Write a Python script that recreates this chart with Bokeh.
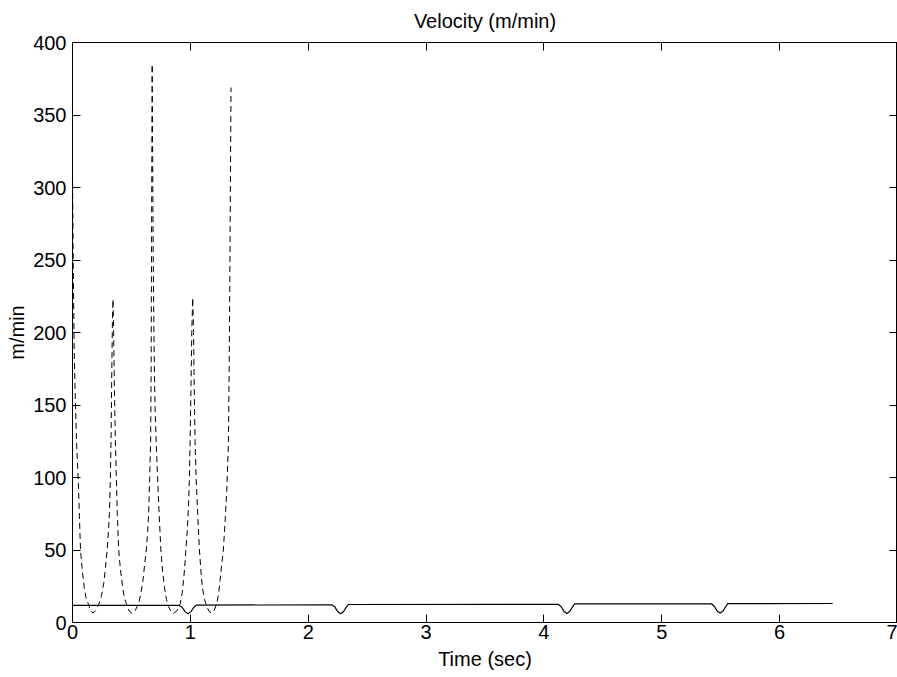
from bokeh.plotting import figure
from bokeh.models import Range1d, LinearAxis, SingleIntervalTicker, CustomLabelingPolicy
from bokeh.embed import file_html
from bokeh.resources import INLINE

# Dashed curve (m/min vs sec)
dash_t = [0.000, 0.006, 0.014, 0.022, 0.034, 0.048, 0.058, 0.068, 0.084, 0.100,
          0.115, 0.133, 0.150, 0.173, 0.195, 0.220, 0.245, 0.265, 0.280, 0.294,
          0.305, 0.313, 0.320, 0.327, 0.333, 0.339, 0.344, 0.349, 0.356, 0.364,
          0.372, 0.380, 0.392, 0.405, 0.426, 0.440, 0.457, 0.480, 0.505, 0.530,
          0.561, 0.580, 0.598, 0.612, 0.626, 0.638, 0.646, 0.655, 0.663, 0.667,
          0.670, 0.673, 0.676, 0.680, 0.685, 0.692, 0.700, 0.710, 0.722, 0.735,
          0.750, 0.765, 0.781, 0.797, 0.815, 0.835, 0.857, 0.885, 0.914, 0.930,
          0.942, 0.952, 0.962, 0.975, 0.984, 0.992, 0.998, 1.005, 1.012, 1.020,
          1.027, 1.033, 1.040, 1.049, 1.062, 1.077, 1.090, 1.102, 1.120, 1.140,
          1.160, 1.180, 1.200, 1.224, 1.240, 1.252, 1.266, 1.280, 1.295, 1.309,
          1.317, 1.323, 1.330, 1.336, 1.341, 1.345]
dash_v = [310, 250, 190, 160, 125, 100, 75, 50, 35, 24,
          17, 13, 9, 6.5, 8, 12, 18, 27, 38, 50,
          63, 75, 95, 125, 170, 210, 223, 200, 160, 125,
          100, 75, 50, 38, 24, 17, 13, 8, 6.2, 8,
          13, 20, 29, 40, 50, 63, 75, 100, 125, 170,
          240, 320, 385, 320, 250, 190, 150, 125, 100, 75,
          50, 35, 24, 16, 11, 7.5, 6.2, 8, 13, 20,
          29, 38, 50, 65, 80, 100, 125, 160, 200, 224,
          200, 160, 125, 100, 75, 50, 35, 24, 16, 11,
          7.5, 6.4, 8, 13, 20, 29, 40, 50, 70, 91,
          110, 125, 180, 250, 320, 369]

# Solid curve
solid_t = [0.00, 0.90, 0.93, 0.955, 0.98, 1.005, 1.03, 1.05,
           2.20, 2.225, 2.25, 2.275, 2.30, 2.325, 2.34,
           4.12, 4.145, 4.17, 4.195, 4.22, 4.245, 4.26,
           5.42, 5.445, 5.47, 5.495, 5.52, 5.545, 5.56, 6.45]
solid_v = [11.8, 11.9, 10.5, 7.5, 6.0, 7.5, 10.5, 12.0,
           12.2, 10.8, 7.6, 6.0, 7.6, 10.8, 12.4,
           12.6, 11.0, 7.8, 6.2, 7.8, 11.0, 12.8,
           12.9, 11.2, 8.0, 6.5, 8.0, 11.2, 13.0, 13.1]

title_text = "Velocity (m/min)"
x_ticks_interval = 1
y_ticks_interval = 50
FONT = "Liberation Sans"
FS = "20px"

p = figure(width=897, height=677, output_backend="svg", toolbar_location=None,
           x_range=Range1d(0, 7), y_range=Range1d(0, 400),
           min_border_left=72, min_border_right=0, min_border_top=42, min_border_bottom=55,
           x_axis_label="Time (sec)", y_axis_label="m/min")
p.background_fill_color = "white"
p.border_fill_color = "white"
p.grid.visible = False
p.outline_line_color = "black"
p.outline_line_width = 1

p.title.text = title_text
p.title.align = "center"
p.title.vertical_align = "top"
p.title.text_font = FONT
p.title.text_font_size = FS
p.title.text_font_style = "normal"
p.title.text_color = "black"
p.title.standoff = 17

p.xaxis.ticker = SingleIntervalTicker(interval=x_ticks_interval)
p.yaxis.ticker = SingleIntervalTicker(interval=y_ticks_interval)
for ax in [p.xaxis[0], p.yaxis[0]]:
    ax.major_tick_in = 8
    ax.major_tick_out = 0
    ax.minor_tick_in = 0
    ax.minor_tick_out = 0
    ax.axis_line_color = "black"
    ax.major_tick_line_color = "black"
    ax.major_label_text_font = FONT
    ax.major_label_text_font_size = FS
    ax.major_label_text_color = "black"
    ax.axis_label_text_font = FONT
    ax.axis_label_text_font_size = FS
    ax.axis_label_text_font_style = "normal"
    ax.axis_label_text_color = "black"
p.xaxis.major_label_standoff = 2
p.xaxis.axis_label_standoff = 6
p.yaxis.major_label_standoff = 6
p.yaxis.axis_label_standoff = 2

no_labels = CustomLabelingPolicy(code="""
for (const i of Array.from(indices)) { indices.unset(i) }
return indices
""")

top_ax = LinearAxis(ticker=SingleIntervalTicker(interval=x_ticks_interval))
right_ax = LinearAxis(ticker=SingleIntervalTicker(interval=y_ticks_interval))
for ax in [top_ax, right_ax]:
    ax.major_tick_in = 8
    ax.major_tick_out = 0
    ax.minor_tick_in = 0
    ax.minor_tick_out = 0
    ax.major_label_text_font_size = "0px"
    ax.major_label_standoff = 0
    ax.axis_label_standoff = 0
    ax.major_label_policy = no_labels
    ax.axis_line_color = "black"
p.add_layout(top_ax, "above")
p.add_layout(right_ax, "right")

p.line(dash_t, dash_v, line_color="black", line_width=1, line_dash="6 4")
p.line(solid_t, solid_v, line_color="black", line_width=1.2)

open("out.html", "w").write(file_html(p, INLINE))
